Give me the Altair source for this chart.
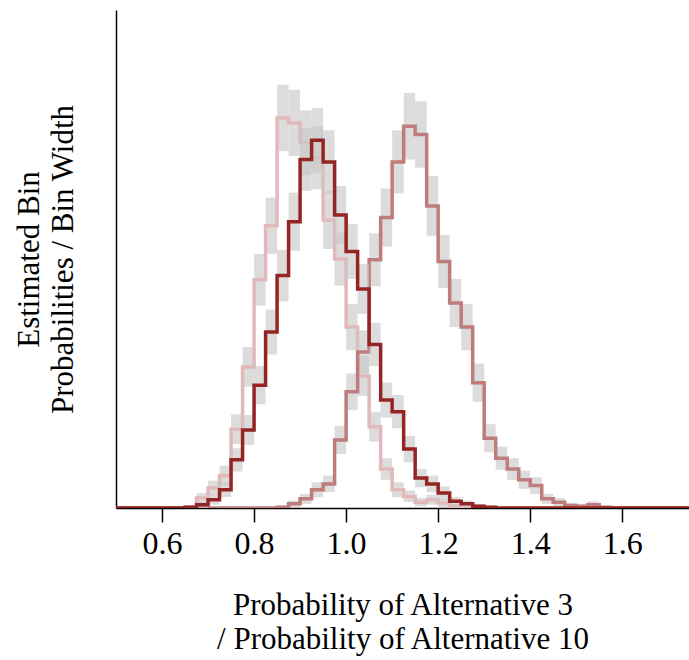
import altair as alt
import pandas as pd

# ---- data (densities) ----
bin_width = 0.025
x_lo, x_hi = 0.5, 1.75
x_ticks = [0.6, 0.8, 1.0, 1.2, 1.4, 1.6]

light_start = 0.65
light_vals = [0.01, 0.12, 0.24, 0.39, 0.95, 1.70, 2.75, 3.40, 4.70, 4.64,
              4.40, 4.22, 3.47, 3.00, 2.18, 1.59, 0.98, 0.47, 0.22, 0.14,
              0.07, 0.10, 0.06, 0.02, 0.01]
light_err = [0.02, 0.06, 0.09, 0.12, 0.18, 0.24, 0.31, 0.34, 0.40, 0.40,
             0.39, 0.38, 0.35, 0.32, 0.28, 0.24, 0.18, 0.13, 0.09, 0.07,
             0.05, 0.06, 0.05, 0.03, 0.02]

medium_start = 0.85
medium_vals = [0.01, 0.05, 0.11, 0.22, 0.29, 0.82, 1.40, 1.88, 2.99, 3.50,
               4.17, 4.60, 4.50, 3.64, 2.97, 2.47, 2.18, 1.51, 0.84, 0.60,
               0.47, 0.34, 0.27, 0.11, 0.07, 0.03, 0.02, 0.04, 0.01]
medium_err = [0.02, 0.04, 0.06, 0.09, 0.10, 0.17, 0.22, 0.26, 0.32, 0.35,
              0.38, 0.40, 0.40, 0.36, 0.32, 0.29, 0.28, 0.23, 0.17, 0.14,
              0.13, 0.11, 0.10, 0.06, 0.05, 0.03, 0.03, 0.04, 0.02]

dark_start = 0.65
dark_vals = [0.01, 0.04, 0.10, 0.22, 0.58, 0.94, 1.48, 2.12, 2.80, 3.45,
             4.20, 4.43, 4.17, 3.53, 3.09, 2.64, 1.97, 1.30, 1.16, 0.71,
             0.36, 0.29, 0.18, 0.08, 0.05, 0.02, 0.01]
dark_err = [0.02, 0.04, 0.06, 0.09, 0.14, 0.18, 0.23, 0.27, 0.31, 0.35,
            0.38, 0.39, 0.38, 0.35, 0.33, 0.30, 0.26, 0.21, 0.20, 0.16,
            0.11, 0.10, 0.08, 0.05, 0.04, 0.03, 0.02]

series = [
    ("light", light_start, light_vals, light_err, "#e0baba"),
    ("medium", medium_start, medium_vals, medium_err, "#be7c7c"),
    ("dark", dark_start, dark_vals, dark_err, "#952424"),
]

FONT = "Liberation Serif"
W, H = 573, 498

xscale = alt.Scale(domain=[x_lo, 1.745], nice=False, zero=False)
yscale = alt.Scale(domain=[0, 6], nice=False, zero=True)

x_axis = alt.Axis(values=x_ticks, format=".1f", grid=False, domain=True,
                  domainColor="black", domainWidth=1.5, tickColor="black",
                  tickWidth=1.5, tickSize=14, labelFont=FONT, labelFontSize=32,
                  labelColor="black", labelPadding=6, labelFlush=False,
                  title=["Probability of Alternative 3",
                         "/ Probability of Alternative 10"],
                  titleFont=FONT, titleFontSize=31, titleFontWeight="normal",
                  titleColor="black", titleBaseline="alphabetic",
                  titleY=106, titleLineHeight=34)
y_axis = alt.Axis(grid=False, domain=True, domainColor="black",
                  domainWidth=1.5, ticks=False, labels=False,
                  title=["Estimated Bin", "Probabilities / Bin Width"],
                  titleFont=FONT, titleFontSize=31, titleFontWeight="normal",
                  titleColor="black", titleAngle=270, titleAlign="center",
                  titleBaseline="alphabetic", titleX=-78, titleY=249,
                  titleLineHeight=34)

layers = []
n_bins = int(round((x_hi - x_lo) / bin_width))
for name, start, vals, errs, color in series:
    i0 = int(round((start - x_lo) / bin_width))
    full = [0.0] * n_bins
    for k, v in enumerate(vals):
        full[i0 + k] = v
    line_df = pd.DataFrame({
        "x": [x_lo + i * bin_width for i in range(n_bins)] + [x_hi],
        "lo": full + [full[-1]],
    })
    band_df = pd.DataFrame({
        "x": [start + k * bin_width for k in range(len(vals))],
        "x2": [start + (k + 1) * bin_width for k in range(len(vals))],
        "lo": [max(v - e, 0.0) for v, e in zip(vals, errs)],
        "hi": [v + e for v, e in zip(vals, errs)],
    })
    band = alt.Chart(band_df).mark_rect(color="#c7c7c7", opacity=0.63,
                                        clip=True).encode(
        x=alt.X("x:Q", scale=xscale, axis=x_axis),
        x2="x2:Q",
        y=alt.Y("lo:Q", scale=yscale, axis=y_axis),
        y2="hi:Q",
    )
    line = alt.Chart(line_df).mark_line(interpolate="step-after", color=color,
                                        strokeWidth=3.5, clip=True).encode(
        x=alt.X("x:Q", scale=xscale, axis=x_axis),
        y=alt.Y("lo:Q", scale=yscale, axis=y_axis),
    )
    layers += [band, line]

chart = alt.layer(*layers).properties(
    width=W, height=H,
    autosize=alt.AutoSizeParams(type="none"),
    padding={"left": 116, "top": 10, "right": 0, "bottom": 152},
    background="white",
).configure_view(stroke=None)

chart.save("out.html", embed_options={"renderer": "svg", "actions": False})
